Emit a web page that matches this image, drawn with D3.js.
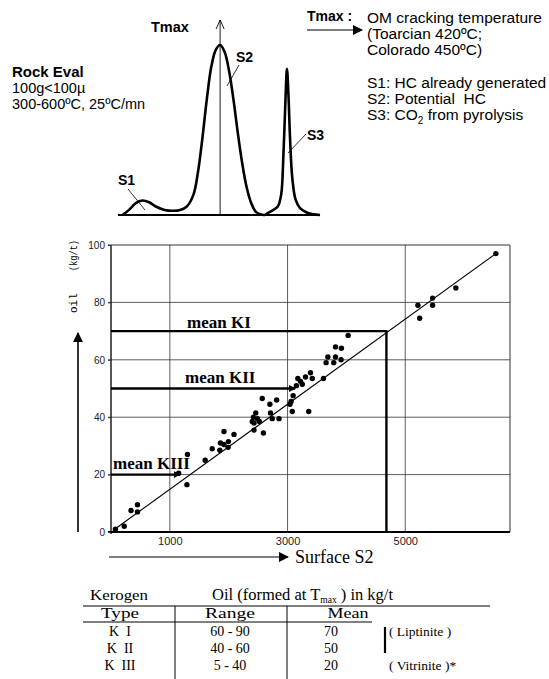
<!DOCTYPE html>
<html><head><meta charset="utf-8">
<script src="https://cdn.jsdelivr.net/npm/d3@7"></script>
<style>
html,body{margin:0;padding:0;background:#fff;}
svg{display:block;}
text{white-space:pre;}
</style></head>
<body>
<script>
// ---------- DATA ----------
// Rock-Eval pyrogram trace (relative time, relative signal)
const traceTime   = [2,5,8,11,14,17,21,25,28,31,34,36,38,40,42,44,46,48,50,52,54,56,58,60,62,64,66,68,70,72,73.5,74.5,75.5,76.1,76.8,77.5,78.5,80,82,85,88,91];
const traceSignal = [0,3,7,8.5,7.5,5,3,2.5,3,5,12,25,45,68,87,97,100,96,85,68,48,30,16,7,2,0.5,0,1.5,3,5,12,35,70,86,70,45,22,9,4,1.5,0.4,0];

// Scatter: Surface S2 vs Oil (kg/t)
const surfaceS2 = [75,225,340,450,450,1150,1290,1300,1600,1720,1850,1860,1920,1920,1990,1995,2090,
  2400,2420,2430,2460,2490,2520,2430,2590,2570,2700,2710,2740,2815,2855,
  3040,3060,3095,3080,3360,3150,3175,3220,3250,3305,3390,3420,3610,
  3655,3685,3785,3815,3910,3815,3915,4030,5215,5245,5465,5465,5860,6540];
const oilYield  = [1,2,7.5,9.5,7,20.5,16.5,27,25,29,28.5,31,35,30.5,29.5,31.5,34,
  38.5,40,38,41.5,39.5,38.5,35.5,34.5,46.5,44.5,41.5,39.5,46,39.5,
  44.5,45.5,47.5,42,42,51,53.5,52.5,51.5,54,55.5,53.5,53.5,
  59,61,59,61,60,64.5,64,68.5,79,74.5,81.5,79,85,97];

const trendS2  = [50, 6540];
const trendOil = [0.8, 97];

const meanLabels = ["mean KI","mean KII","mean KIII"];
const meanOil    = [70, 50, 20];
const meanS2     = [4680, 3130, 1170];

const xTicks = [1000, 3000, 5000];
const yTicks = [0, 20, 40, 60, 80, 100];

// Table
const kerogenTypes = ["K  I", "K  II", "K  III"];
const oilRanges    = ["60 - 90", "40 - 60", "5 - 40"];
const oilMeans     = ["70", "50", "20"];
const macerals     = ["( Liptinite )", "", "( Vitrinite )*"];

// Text blocks
const rockEvalLines = ["100g<100\u00b5", "300-600\u00baC, 25\u00baC/mn"];
const tmaxLines = ["OM cracking temperature", "(Toarcian 420\u00baC;", "Colorado 450\u00baC)"];
const peakLines = ["S1: HC already generated", "S2: Potential  HC"];

// ---------- DRAW ----------
const W = 549, H = 679;
const svg = d3.select("body").append("svg").attr("width", W).attr("height", H);
const SANS = "'Liberation Sans', Arial, sans-serif";
const SERIF = "'Liberation Serif', 'Times New Roman', serif";
const MONO = "'Liberation Mono', 'DejaVu Sans Mono', monospace";

const defs = svg.append("defs");
defs.append("marker").attr("id","tri").attr("viewBox","0 0 10 10").attr("refX",9).attr("refY",5)
  .attr("markerWidth",10).attr("markerHeight",10).attr("markerUnits","userSpaceOnUse").attr("orient","auto")
  .append("path").attr("d","M0,0L10,5L0,10Z").attr("fill","#000");
defs.append("marker").attr("id","tri2").attr("viewBox","0 0 10 10").attr("refX",9).attr("refY",5)
  .attr("markerWidth",7).attr("markerHeight",7).attr("markerUnits","userSpaceOnUse").attr("orient","auto")
  .append("path").attr("d","M0,0L10,5L0,10Z").attr("fill","#000");

// ---- Top: pyrogram ----
const xt = d3.scaleLinear().domain([0, 100]).range([118, 340]);
const yt = d3.scaleLinear().domain([0, 100]).range([215, 45]);
const trace = traceTime.map((t, i) => [t, traceSignal[i]]);

svg.append("line").attr("x1", xt(0)).attr("x2", xt(91)).attr("y1", yt(0)).attr("y2", yt(0))
  .attr("stroke","#000").attr("stroke-width",2);
svg.append("path").datum(trace)
  .attr("d", d3.line().x(d => xt(d[0])).y(d => yt(d[1])).curve(d3.curveCatmullRom.alpha(0.5)))
  .attr("fill","none").attr("stroke","#000").attr("stroke-width",2.6).attr("stroke-linejoin","round");
// Tmax arrow
const tPeak = 46;
svg.append("line").attr("x1", xt(tPeak)).attr("x2", xt(tPeak)).attr("y1", yt(0)).attr("y2", 20)
  .attr("stroke","#000").attr("stroke-width",0.9);
svg.append("path").attr("d", `M${xt(tPeak)-4},${29}L${xt(tPeak)},${20}L${xt(tPeak)+4},${29}`)
  .attr("fill","none").attr("stroke","#000").attr("stroke-width",0.9);
svg.append("text").attr("x",151).attr("y",32).text("Tmax")
  .attr("font-family",SANS).attr("font-weight","bold").attr("font-size",14.5);
// peak labels and leaders
const peakLbl = [["S1",118,185,[128,189,145,210]],["S2",236,62,[239,65,227,86]],["S3",307,140,[306,134,288,153]]];
peakLbl.forEach(p => {
  svg.append("text").attr("x",p[1]).attr("y",p[2]).text(p[0])
    .attr("font-family",SANS).attr("font-weight","bold").attr("font-size",14);
  svg.append("line").attr("x1",p[3][0]).attr("y1",p[3][1]).attr("x2",p[3][2]).attr("y2",p[3][3])
    .attr("stroke","#000").attr("stroke-width",0.8);
});
// Rock Eval text
svg.append("text").attr("x",12).attr("y",77).text("Rock Eval")
  .attr("font-family",SANS).attr("font-weight","bold").attr("font-size",15);
rockEvalLines.forEach((s,i) => svg.append("text").attr("x",12).attr("y",93 + i*16).text(s)
  .attr("font-family",SANS).attr("font-size",14.5));
// Tmax definition
svg.append("text").attr("x",307).attr("y",21).text("Tmax :")
  .attr("font-family",SANS).attr("font-weight","bold").attr("font-size",14);
svg.append("line").attr("x1",307).attr("x2",362).attr("y1",30).attr("y2",30)
  .attr("stroke","#000").attr("stroke-width",1.2).attr("marker-end","url(#tri)");
tmaxLines.forEach((s,i) => svg.append("text").attr("x",367).attr("y",23 + i*16).text(s)
  .attr("font-family",SANS).attr("font-size",15.5));
peakLines.forEach((s,i) => svg.append("text").attr("x",367).attr("y",88 + i*16).text(s)
  .attr("font-family",SANS).attr("font-size",15.5));
const s3t = svg.append("text").attr("x",367).attr("y",120).attr("font-family",SANS).attr("font-size",15.5);
s3t.append("tspan").text("S3: CO");
s3t.append("tspan").text("2").attr("font-size",10).attr("dy",4);
s3t.append("tspan").text(" from pyrolysis").attr("dy",-4);

// ---- Scatter chart ----
const x = d3.scaleLinear().domain([0, 6780]).range([111, 510]);
const y = d3.scaleLinear().domain([0, 100]).range([532, 245]);

// grid
svg.append("g").selectAll("line").data(xTicks).join("line")
  .attr("x1", d => x(d)).attr("x2", d => x(d)).attr("y1", y(100)).attr("y2", y(0))
  .attr("stroke","#333").attr("stroke-width",0.8);
svg.append("g").selectAll("line").data(yTicks.filter(d => d > 0 && d < 100)).join("line")
  .attr("x1", x(0) - 3).attr("x2", x(6780)).attr("y1", d => y(d)).attr("y2", d => y(d))
  .attr("stroke","#333").attr("stroke-width",0.8);
// frame
svg.append("line").attr("x1",x(0)-3).attr("x2",x(6780)).attr("y1",y(100)).attr("y2",y(100)).attr("stroke","#333").attr("stroke-width",1);
svg.append("line").attr("x1",x(6780)).attr("x2",x(6780)).attr("y1",y(100)).attr("y2",y(0)).attr("stroke","#333").attr("stroke-width",1);
svg.append("line").attr("x1",x(0)).attr("x2",x(0)).attr("y1",y(100)).attr("y2",y(0)+2).attr("stroke","#111").attr("stroke-width",1.4);
svg.append("line").attr("x1",x(0)-3).attr("x2",x(6780)).attr("y1",y(0)).attr("y2",y(0)).attr("stroke","#000").attr("stroke-width",2);

// axes labels
const yAxis = svg.append("g").attr("transform",`translate(${x(0)},0)`)
  .call(d3.axisLeft(y).tickValues(yTicks).tickFormat(d3.format("d")).tickSize(3).tickPadding(3));
yAxis.select(".domain").remove();
yAxis.selectAll("line").attr("stroke","#333");
yAxis.selectAll("text").attr("font-family",SANS).attr("font-size",10).attr("fill","#222");
const xAxis = svg.append("g").attr("transform",`translate(0,${y(0)})`)
  .call(d3.axisBottom(x).tickValues(xTicks).tickFormat(d3.format("d")).tickSize(0).tickPadding(5));
xAxis.select(".domain").remove();
xAxis.selectAll("text").attr("font-family",SANS).attr("font-size",11).attr("fill","#222");

// trend line
svg.append("line").attr("x1",x(trendS2[0])).attr("y1",y(trendOil[0])).attr("x2",x(trendS2[1])).attr("y2",y(trendOil[1]))
  .attr("stroke","#000").attr("stroke-width",1.1);

// mean lines
const labelX = [187, 185, 113];
meanOil.forEach((m,i) => {
  svg.append("line").attr("x1",x(0)).attr("x2",x(meanS2[i])).attr("y1",y(m)).attr("y2",y(m))
    .attr("stroke","#000").attr("stroke-width",2.4)
    .attr("marker-end", i > 0 ? "url(#tri2)" : null);
  svg.append("text").attr("x",labelX[i]).attr("y",y(m) - (i === 0 ? 3 : 6)).text(meanLabels[i])
    .attr("font-family",SERIF).attr("font-weight","bold").attr("font-size",17);
});
svg.append("line").attr("x1",x(meanS2[0])).attr("x2",x(meanS2[0])).attr("y1",y(meanOil[0])-1).attr("y2",y(0))
  .attr("stroke","#000").attr("stroke-width",2.4);

// points
svg.append("g").selectAll("circle").data(surfaceS2.map((s,i)=>[s,oilYield[i]])).join("circle")
  .attr("cx", d => x(d[0])).attr("cy", d => y(d[1])).attr("r", 2.7).attr("fill","#000");

// y label + arrow
svg.append("line").attr("x1",78).attr("x2",78).attr("y1",532).attr("y2",333)
  .attr("stroke","#000").attr("stroke-width",1.6).attr("marker-end","url(#tri)");
svg.append("text").attr("transform","translate(77,313) rotate(-90)").text("oil")
  .attr("font-family",MONO).attr("font-size",11);
svg.append("text").attr("transform","translate(77,271) rotate(-90)").text("(kg/t)")
  .attr("font-family",MONO).attr("font-size",10).attr("textLength",31).attr("lengthAdjust","spacingAndGlyphs");
// x label + arrow
svg.append("line").attr("x1",109).attr("x2",288).attr("y1",557).attr("y2",557)
  .attr("stroke","#000").attr("stroke-width",1.2).attr("marker-end","url(#tri)");
svg.append("text").attr("x",295).attr("y",563).text("Surface S2")
  .attr("font-family",SERIF).attr("font-size",18);

// ---- Table ----
const colType = 120, colRange = 230, colMean = 331, colMac = 389;
const tf = (t) => t.attr("font-family",SERIF).attr("fill","#000");
tf(svg.append("text").attr("x",90).attr("y",600).text("Kerogen").attr("font-size",15)
  .attr("textLength",58).attr("lengthAdjust","spacingAndGlyphs"));
const hdr = tf(svg.append("text").attr("x",212).attr("y",600).attr("font-size",16.5));
hdr.append("tspan").text("Oil (formed at T");
hdr.append("tspan").text("max").attr("font-size",9.5).attr("dy",3);
hdr.append("tspan").text(" ) in kg/t").attr("dy",-3);
svg.append("line").attr("x1",83).attr("x2",490).attr("y1",606).attr("y2",606).attr("stroke","#000").attr("stroke-width",1);
[["Type",colType,38],["Range",colRange,50],["Mean",348,41]].forEach(h =>
  tf(svg.append("text").attr("x",h[1]).attr("y",618).attr("text-anchor","middle").text(h[0]).attr("font-size",15)
    .attr("textLength",h[2]).attr("lengthAdjust","spacingAndGlyphs")));
svg.append("line").attr("x1",83).attr("x2",372).attr("y1",622).attr("y2",622).attr("stroke","#000").attr("stroke-width",1);
[175, 287].forEach(vx => svg.append("line").attr("x1",vx).attr("x2",vx).attr("y1",606).attr("y2",679)
  .attr("stroke","#000").attr("stroke-width",1));
svg.append("line").attr("x1",385).attr("x2",385).attr("y1",627).attr("y2",653).attr("stroke","#000").attr("stroke-width",2.2);
kerogenTypes.forEach((k,i) => {
  const by = 636 + i*17;
  tf(svg.append("text").attr("x",colType).attr("y",by).attr("text-anchor","middle").text(k).attr("font-size",14));
  tf(svg.append("text").attr("x",colRange).attr("y",by).attr("text-anchor","middle").text(oilRanges[i]).attr("font-size",14));
  tf(svg.append("text").attr("x",colMean).attr("y",by).attr("text-anchor","middle").text(oilMeans[i]).attr("font-size",14));
  if (macerals[i]) tf(svg.append("text").attr("x",colMac).attr("y",by).text(macerals[i]).attr("font-size",13.5));
});
</script>
</body></html>
